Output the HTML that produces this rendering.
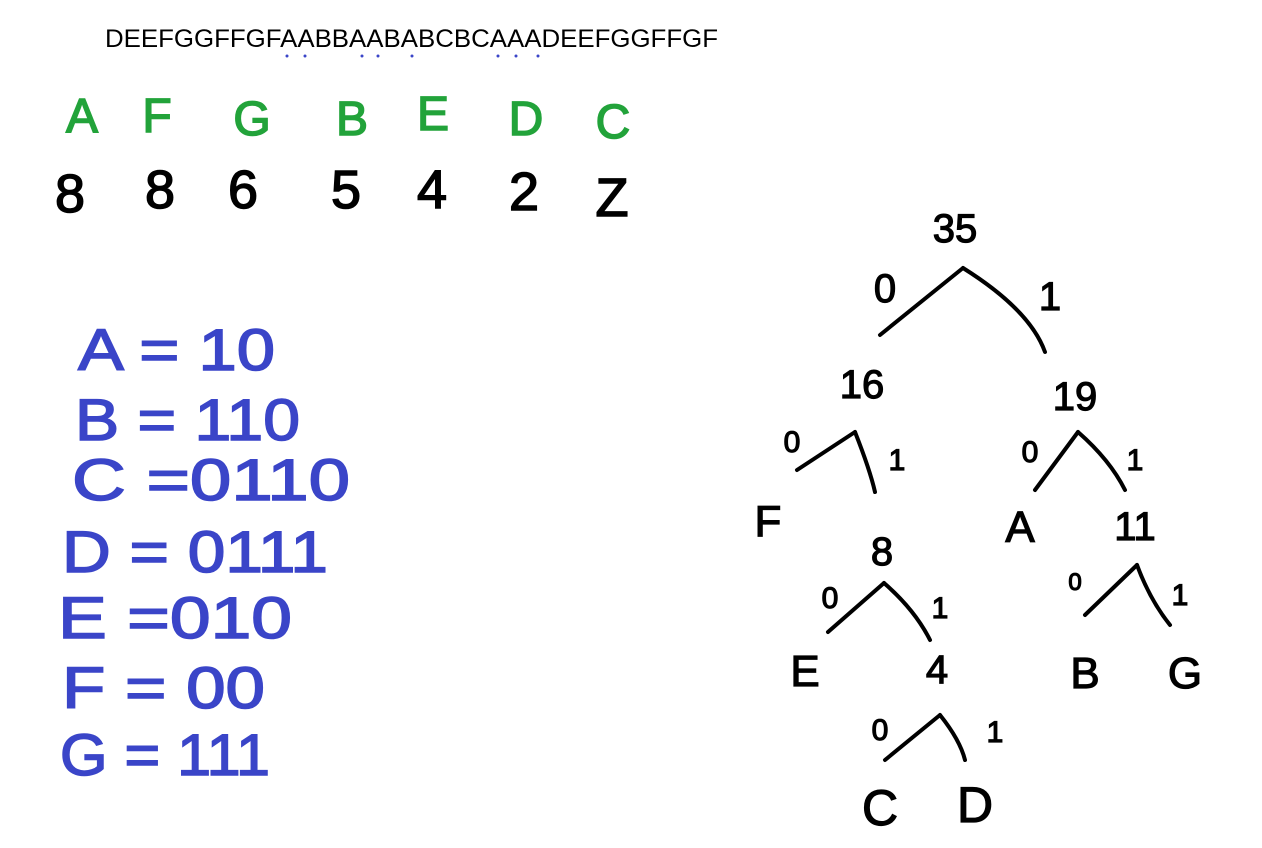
<!DOCTYPE html>
<html><head><meta charset="utf-8"><style>
html,body{margin:0;padding:0;background:#fff;}
svg{display:block}
text{font-family:"Liberation Sans",sans-serif;}
</style></head><body>
<svg width="1262" height="848" viewBox="0 0 1262 848">
<text x="105" y="47" font-size="25" fill="#000" textLength="613" lengthAdjust="spacingAndGlyphs">DEEFGGFFGFAABBAABABCBCAAADEEFGGFFGF</text>
<g fill="#3a45c8">
<circle cx="287" cy="56" r="1.5"/><circle cx="305" cy="56" r="1.5"/><circle cx="362" cy="56" r="1.5"/><circle cx="378" cy="56" r="1.5"/><circle cx="412" cy="56" r="1.5"/><circle cx="498" cy="56" r="1.5"/><circle cx="516" cy="56" r="1.5"/><circle cx="538" cy="56" r="1.5"/>
</g>
<g fill="#22a33a" stroke="#22a33a" stroke-width="1.5" font-size="48" text-anchor="middle">
<text x="82" y="132">A</text><text x="157" y="132">F</text><text x="252" y="135">G</text><text x="352" y="135">B</text><text x="433" y="130">E</text><text x="526" y="135">D</text><text x="613" y="138">C</text>
</g>
<g fill="#000" stroke="#000" stroke-width="1.5" font-size="54" text-anchor="middle">
<text x="70" y="212">8</text><text x="160" y="208">8</text><text x="243" y="208">6</text><text x="346" y="208">5</text><text x="432" y="208">4</text><text x="524" y="210">2</text><text x="612" y="216">Z</text>
</g>
<g fill="#3a45c8" stroke="#3a45c8" stroke-width="1.5" font-size="58" lengthAdjust="spacingAndGlyphs">
<text x="78" y="370" textLength="197" lengthAdjust="spacingAndGlyphs">A = 10</text>
<text x="75" y="440" textLength="225" lengthAdjust="spacingAndGlyphs">B = 110</text>
<text x="72" y="500" textLength="278" lengthAdjust="spacingAndGlyphs">C  =0110</text>
<text x="62" y="572" textLength="266" lengthAdjust="spacingAndGlyphs">D = 0111</text>
<text x="58" y="638" textLength="234" lengthAdjust="spacingAndGlyphs">E =010</text>
<text x="62" y="708" textLength="203" lengthAdjust="spacingAndGlyphs">F = 00</text>
<text x="60" y="775" textLength="210" lengthAdjust="spacingAndGlyphs">G = 111</text>
</g>
<g stroke="#000" stroke-width="4" fill="none" stroke-linecap="round">
<path d="M963 268 L880 335"/><path d="M963 268 Q1030 310 1045 352"/>
<path d="M855 432 L797 470"/><path d="M855 432 Q870 470 875 492"/>
<path d="M1078 432 L1035 490"/><path d="M1078 432 Q1110 460 1125 490"/>
<path d="M884 583 L828 632"/><path d="M884 583 Q915 610 930 640"/>
<path d="M1137 565 L1085 615"/><path d="M1137 565 Q1150 600 1170 625"/>
<path d="M940 715 L885 760"/><path d="M940 715 Q960 740 965 760"/>
</g>
<g fill="#000" stroke="#000" stroke-width="1.2" font-size="40" text-anchor="middle">
<text x="955" y="242">35</text>
<text x="885" y="302">0</text><text x="1050" y="310">1</text>
<text x="862" y="398">16</text><text x="1075" y="410">19</text>
<text x="792" y="452" font-size="30">0</text><text x="897" y="470" font-size="30">1</text>
<text x="1030" y="462" font-size="30">0</text><text x="1135" y="470" font-size="30">1</text>
<text x="768" y="536" font-size="44">F</text>
<text x="882" y="565">8</text>
<text x="1020" y="542" font-size="44">A</text>
<text x="1135" y="540">11</text>
<text x="830" y="608" font-size="30">0</text><text x="940" y="618" font-size="30">1</text>
<text x="1075" y="590" font-size="24">0</text><text x="1180" y="605" font-size="30">1</text>
<text x="805" y="686" font-size="44">E</text>
<text x="937" y="683">4</text>
<text x="1085" y="688" font-size="44">B</text>
<text x="1185" y="688" font-size="44">G</text>
<text x="880" y="740" font-size="30">0</text><text x="995" y="742" font-size="30">1</text>
<text x="880" y="825" font-size="50">C</text>
<text x="975" y="822" font-size="50">D</text>
</g>
</svg>
</body></html>
